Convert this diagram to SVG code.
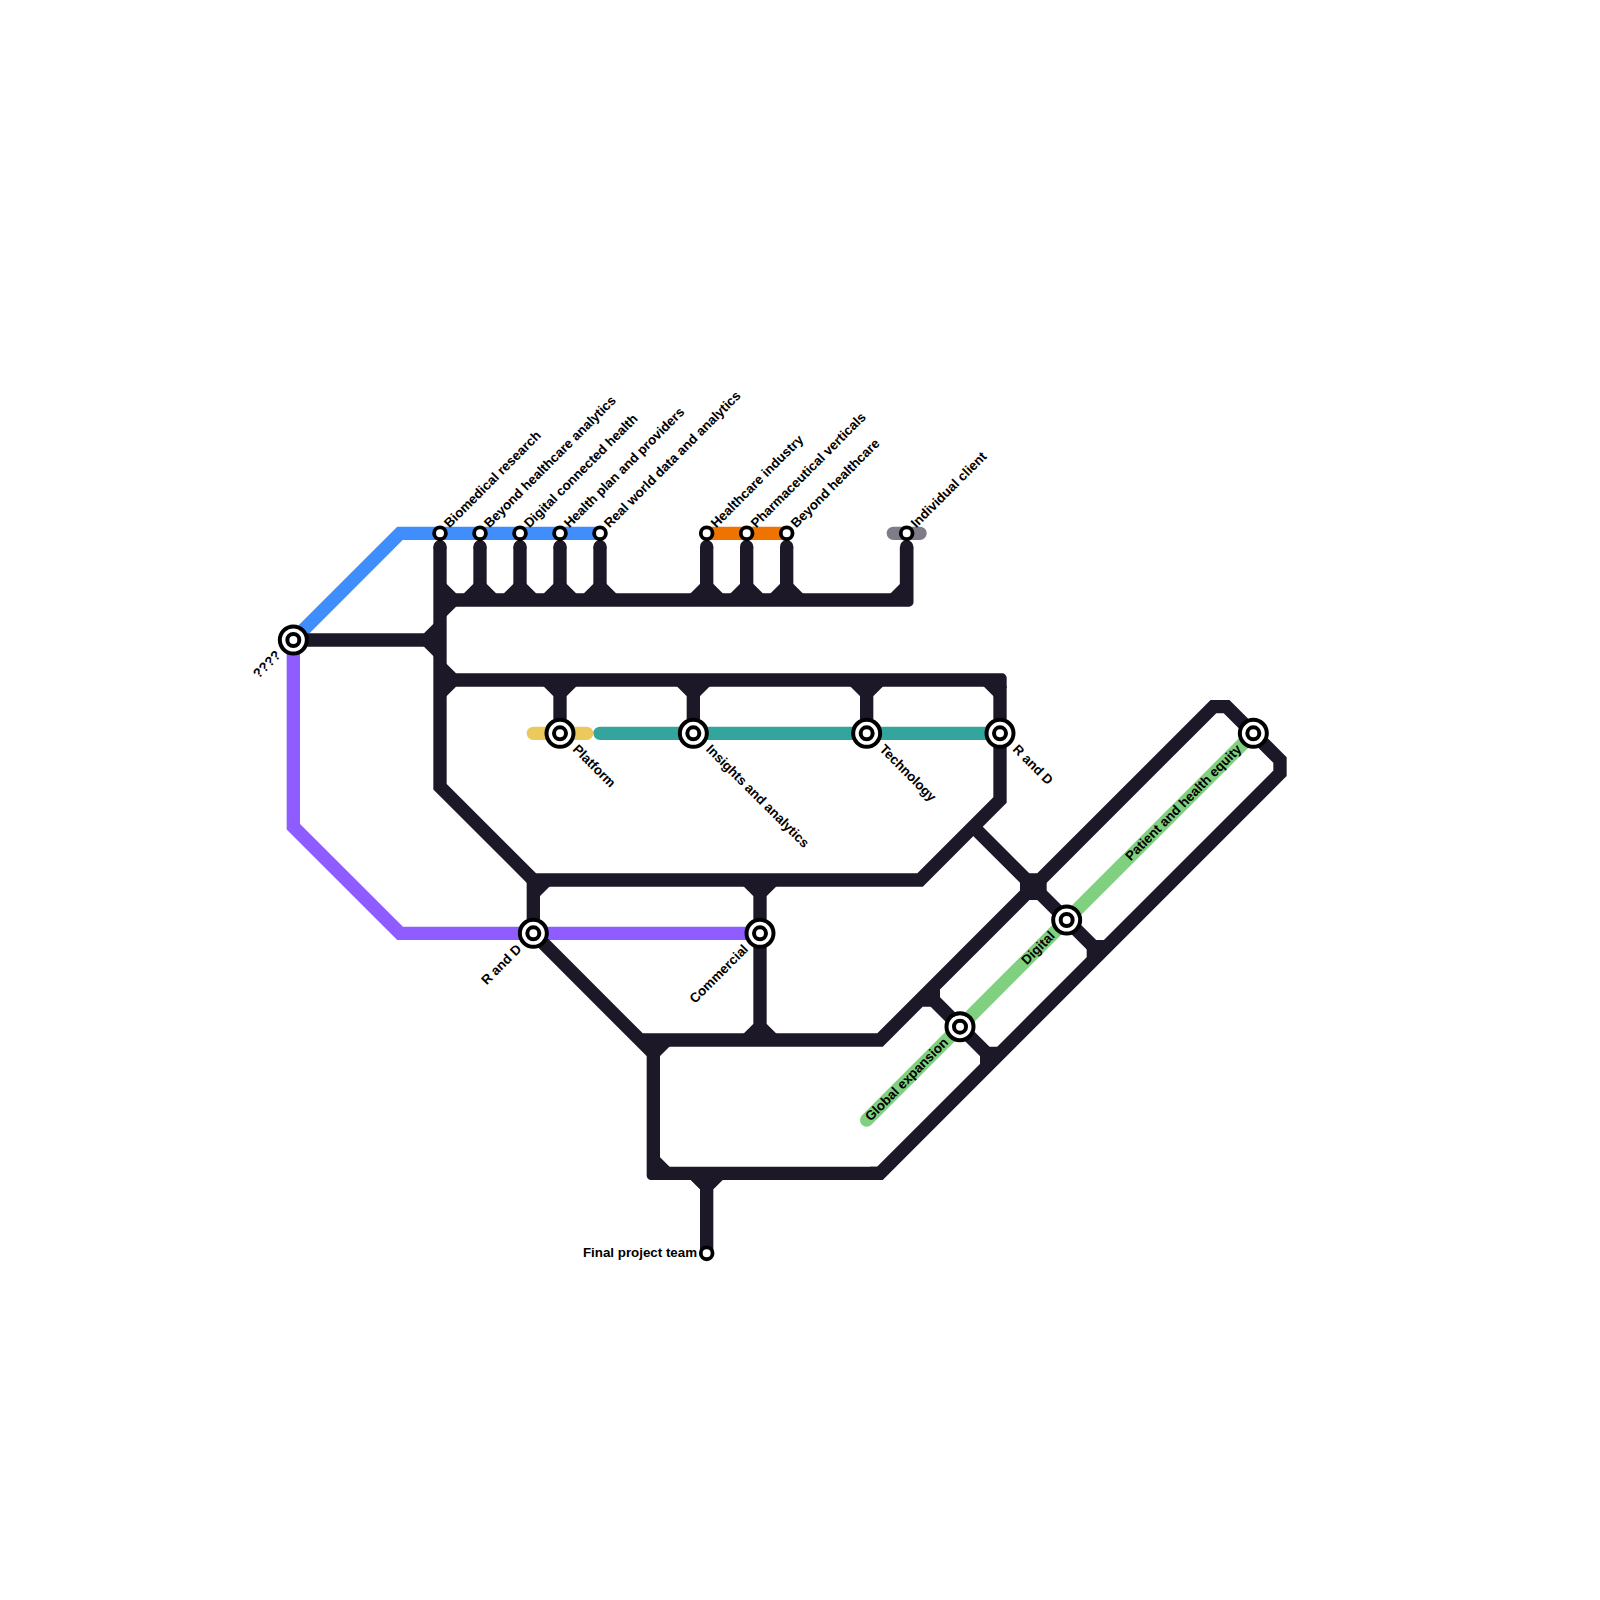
<svg xmlns="http://www.w3.org/2000/svg" width="1600" height="1600" viewBox="0 0 1600 1600">
<style>
.l{fill:none;stroke-width:13.33;stroke-linejoin:miter;stroke-linecap:butt}
.k{stroke:#1c1828}
.r{stroke-linecap:round}
.j{fill:#1c1828}
.o{fill:#fff;stroke:#000;stroke-width:4}
.i{fill:#fff;stroke:#000;stroke-width:4}
.s{fill:#fff;stroke:#000;stroke-width:3.8}
text{font-family:"Liberation Sans",Arial,sans-serif;font-size:13.33px;font-weight:700;fill:#000}
.e{text-anchor:end}
</style>
<rect width="1600" height="1600" fill="#fff"/>
<g id="connectors">
<path class="l" stroke="#3f8efc" d="M293.33 640L400 533.33H600"/>
<path class="l" stroke="#8f5cff" d="M293.33 640V826.67L400 933.33H760"/>
<path class="l" stroke="#ef7300" d="M706.67 533.33H786.67"/>
<path class="l r" stroke="#7f7c87" d="M893.33 533.33H920"/>
<path class="l r" stroke="#ecc95c" d="M533.33 733.33H586.67"/>
<path class="l r" stroke="#33a59c" d="M600 733.33H1000"/>
<path class="l r" stroke="#7fd17f" d="M866.67 1120L1253.33 733.33"/>
<path class="l k" d="M293.33 640H440"/>
<path class="l k" d="M440 546.67V786.67L533.33 880H920L1000 800V686"/>
<path class="j" d="M440 673.33H1002.17A4.5 4.5 0 0 1 1006.67 677.83V688H993.33V686.67H440Z"/>
<path class="j" d="M440 593.33H899.83V546.67H913.5V602.17A4.5 4.5 0 0 1 909 606.67H440Z"/>
<circle class="j" cx="440" cy="546.67" r="6.67"/><circle class="j" cx="480" cy="546.67" r="6.67"/><circle class="j" cx="520" cy="546.67" r="6.67"/><circle class="j" cx="560" cy="546.67" r="6.67"/><circle class="j" cx="600" cy="546.67" r="6.67"/><circle class="j" cx="706.67" cy="546.67" r="6.67"/><circle class="j" cx="746.67" cy="546.67" r="6.67"/><circle class="j" cx="786.67" cy="546.67" r="6.67"/><circle class="j" cx="906.67" cy="546.67" r="6.67"/>
<path class="l k" d="M480 546.67V600M520 546.67V600M560 546.67V600M600 546.67V600M706.67 546.67V600M746.67 546.67V600M786.67 546.67V600"/>
<path class="l k" d="M453.33 600L440 586.67M440 613.33L453.33 600M466.67 600L480 586.67L493.33 600M506.67 600L520 586.67L533.33 600M546.67 600L560 586.67L573.33 600M586.67 600L600 586.67L613.33 600M693.33 600L706.67 586.67L720 600M733.33 600L746.67 586.67L760 600M773.33 600L786.67 586.67L800 600M893.33 600L906.67 586.67"/>
<path class="l k" d="M440 626.67L426.67 640L440 653.33M440 666.67L453.33 680L440 693.33"/>
<path class="l k" d="M560 680V733.33M693.33 680V733.33M866.67 680V733.33M546.67 680L560 693.33L573.33 680M680 680L693.33 693.33L706.67 680M853.33 680L866.67 693.33L880 680M986.67 680L1000 693.33"/>
<path class="l k" d="M533.33 880V933.33L653.33 1053.33M546.67 880L533.33 893.33M666.67 1040L653.33 1053.33"/>
<path class="l k" d="M760 880V1040M746.67 880L760 893.33L773.33 880M746.67 1040L760 1026.67L773.33 1040"/>
<path class="j" d="M646.67 1050H660V1166.67H884L880 1180H651.17A4.5 4.5 0 0 1 646.67 1175.5Z"/>
<path class="l k" d="M870 1173.33H880L1280 773.33V760L1226.67 706.67H1213.33L880 1040H643"/>
<path class="l k" d="M653.33 1160L666.67 1173.33M693.33 1173.33L706.67 1186.67L720 1173.33M706.67 1173.33V1253.33"/>
<path class="l k" d="M973.33 826.67L1100 953.33M926.67 993.33L993.33 1060"/>
<polygon class="j" points="1029.33,873.33 1037.33,873.33 1046.67,882.67 1046.67,890.67 1037.33,900 1029.33,900 1020,890.67 1020,882.67"/>
<polygon class="j" points="1086.67,949.33 1096,940 1104,940 1100,953.33 1086.67,957.33"/>
<polygon class="j" points="980,1056 989.33,1046.67 997.33,1046.67 993.33,1060 980,1064"/>
<polygon class="j" points="940,997.33 930.67,1006.67 922.67,1006.67 926.67,993.33 940,989.33"/>
</g>
<g id="n-start"><circle class="o" cx="293.33" cy="640" r="13.5"/><circle class="i" cx="293.33" cy="640" r="6"/><text class="e" transform="translate(281.5 656) rotate(-45)">????</text></g>
<g id="n-biomedical"><circle class="s" cx="440" cy="533.33" r="5.9"/><text transform="translate(449.5 528.5) rotate(-45)">Biomedical research</text></g>
<g id="n-beyond-analytics"><circle class="s" cx="480" cy="533.33" r="5.9"/><text transform="translate(489.5 528.5) rotate(-45)">Beyond healthcare analytics</text></g>
<g id="n-digital-health"><circle class="s" cx="520" cy="533.33" r="5.9"/><text transform="translate(529.5 528.5) rotate(-45)">Digital connected health</text></g>
<g id="n-health-plan"><circle class="s" cx="560" cy="533.33" r="5.9"/><text transform="translate(569.5 528.5) rotate(-45)">Health plan and providers</text></g>
<g id="n-real-world"><circle class="s" cx="600" cy="533.33" r="5.9"/><text transform="translate(609.5 528.5) rotate(-45)">Real world data and analytics</text></g>
<g id="n-healthcare-industry"><circle class="s" cx="706.67" cy="533.33" r="5.9"/><text transform="translate(716.17 528.5) rotate(-45)">Healthcare industry</text></g>
<g id="n-pharma"><circle class="s" cx="746.67" cy="533.33" r="5.9"/><text transform="translate(756.17 528.5) rotate(-45)">Pharmaceutical verticals</text></g>
<g id="n-beyond-healthcare"><circle class="s" cx="786.67" cy="533.33" r="5.9"/><text transform="translate(796.17 528.5) rotate(-45)">Beyond healthcare</text></g>
<g id="n-individual"><circle class="s" cx="906.67" cy="533.33" r="5.9"/><text transform="translate(916.17 528.5) rotate(-45)">Individual client</text></g>
<g id="n-platform"><circle class="o" cx="560" cy="733.33" r="13.5"/><circle class="i" cx="560" cy="733.33" r="6"/><text transform="translate(572 750) rotate(45)">Platform</text></g>
<g id="n-insights"><circle class="o" cx="693.33" cy="733.33" r="13.5"/><circle class="i" cx="693.33" cy="733.33" r="6"/><text transform="translate(705.33 750) rotate(45)">Insights and analytics</text></g>
<g id="n-technology"><circle class="o" cx="866.67" cy="733.33" r="13.5"/><circle class="i" cx="866.67" cy="733.33" r="6"/><text transform="translate(878.67 750) rotate(45)">Technology</text></g>
<g id="n-rd-top"><circle class="o" cx="1000" cy="733.33" r="13.5"/><circle class="i" cx="1000" cy="733.33" r="6"/><text transform="translate(1012 750) rotate(45)">R and D</text></g>
<g id="n-rd-low"><circle class="o" cx="533.33" cy="933.33" r="13.5"/><circle class="i" cx="533.33" cy="933.33" r="6"/><text class="e" transform="translate(522.3 950) rotate(-45)">R and D</text></g>
<g id="n-commercial"><circle class="o" cx="760" cy="933.33" r="13.5"/><circle class="i" cx="760" cy="933.33" r="6"/><text class="e" transform="translate(749 950) rotate(-45)">Commercial</text></g>
<g id="n-global"><circle class="o" cx="960" cy="1026.67" r="13.5"/><circle class="i" cx="960" cy="1026.67" r="6"/><text class="e" transform="translate(949 1043.3) rotate(-45)">Global expansion</text></g>
<g id="n-digital"><circle class="o" cx="1066.67" cy="920" r="13.5"/><circle class="i" cx="1066.67" cy="920" r="6"/><text class="e" transform="translate(1055.67 936.7) rotate(-45)">Digital</text></g>
<g id="n-patient"><circle class="o" cx="1253.33" cy="733.33" r="13.5"/><circle class="i" cx="1253.33" cy="733.33" r="6"/><text class="e" transform="translate(1242.33 750) rotate(-45)">Patient and health equity</text></g>
<g id="n-final"><circle class="s" cx="706.67" cy="1253.33" r="5.9"/><text class="e" transform="translate(697 1256.5)">Final project team</text></g>
</svg>
